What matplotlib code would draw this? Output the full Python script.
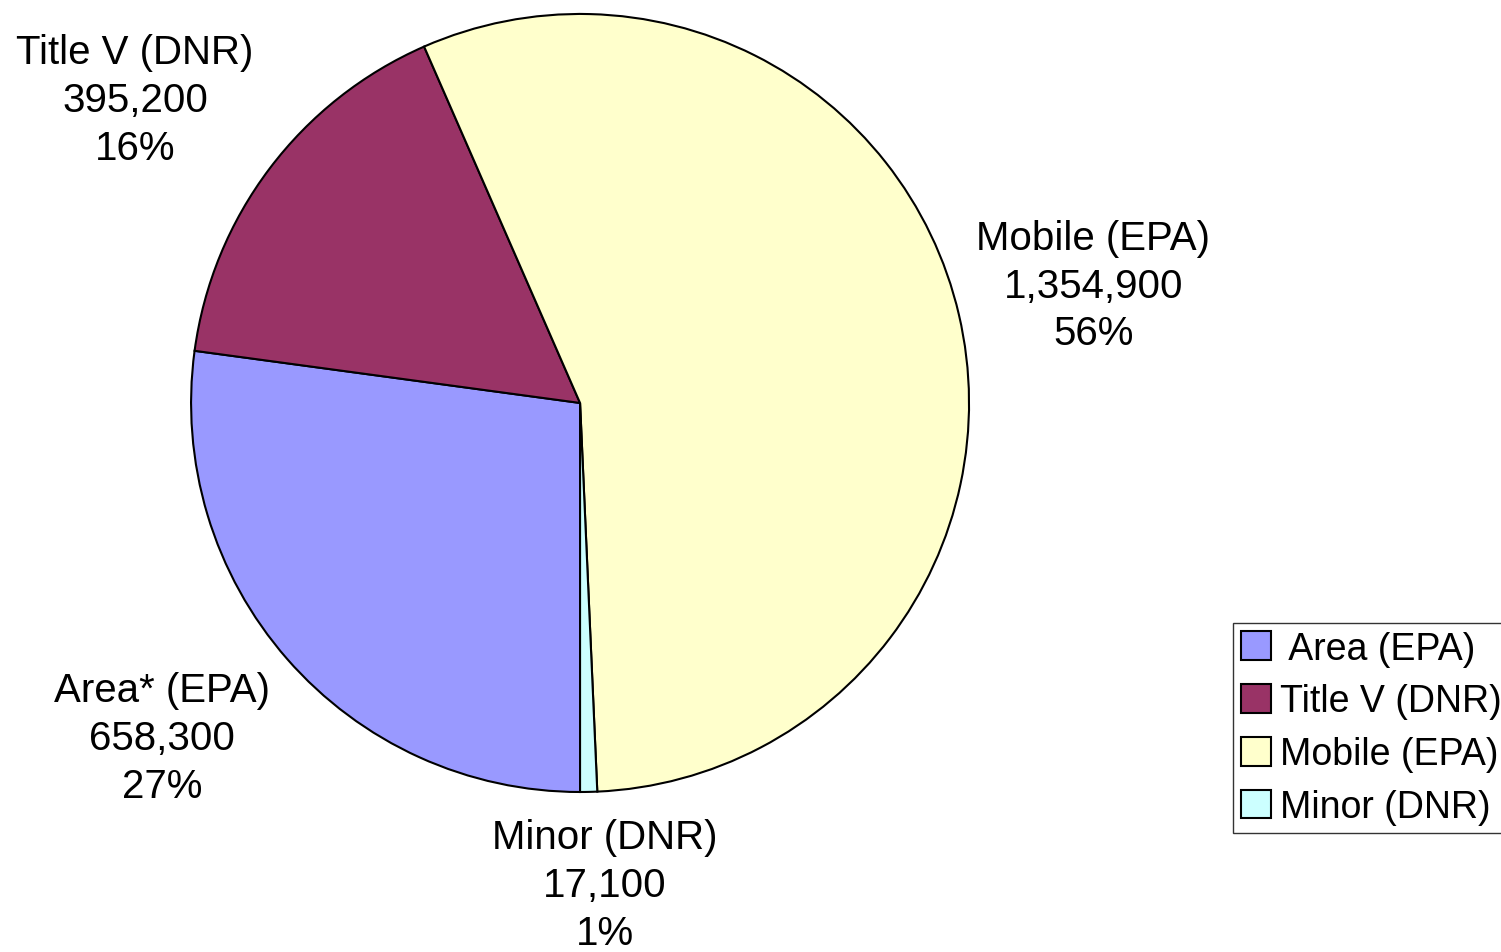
import matplotlib.pyplot as plt
from matplotlib.patches import Patch

plt.rcParams['font.family'] = ['Liberation Sans', 'DejaVu Sans']

# data
categories = ['Area (EPA)', 'Title V (DNR)', 'Mobile (EPA)', 'Minor (DNR)']
legend_labels = [' Area (EPA)', 'Title V (DNR)', 'Mobile (EPA)', 'Minor (DNR)']
slice_labels = ['Area* (EPA)', 'Title V (DNR)', 'Mobile (EPA)', 'Minor (DNR)']
values = [658300, 395200, 1354900, 17100]
colors = ['#9999FF', '#993366', '#FFFFCC', '#CCFFFF']

# label centres, in units of the pie radius (placed like the Excel data labels)
label_pos = [(-1.075, -0.861), (-1.144, 0.779), (1.319, 0.301), (0.064, -1.239)]

fig = plt.figure(figsize=(15.01, 9.53), dpi=100)
ax = fig.add_axes([0.1273, 0.1679, 0.5183, 0.8164])

wedges, _ = ax.pie(values, colors=colors, startangle=270, counterclock=False,
                   radius=1, wedgeprops=dict(edgecolor='black', linewidth=1.5))
ax.set_xlim(-1, 1)
ax.set_ylim(-1, 1)
ax.set_aspect('auto')

total = sum(values)
for name, v, (x, y) in zip(slice_labels, values, label_pos):
    pct = round(100 * v / total)
    ax.text(x, y, f'{name}\n{v:,}\n{pct}%', ha='center', va='center',
            fontsize=29, linespacing=1.32, clip_on=False)

handles = [Patch(facecolor=c, edgecolor='black', linewidth=1.5) for c in colors]
leg = fig.legend(handles, legend_labels, loc='upper left',
                 bbox_to_anchor=(1233 / 1501, 1 - 624 / 953),
                 fontsize=27, frameon=True, fancybox=False, borderpad=0.2,
                 handlelength=0.8, handleheight=0.8, handletextpad=0.25,
                 labelspacing=0.45, borderaxespad=0)
leg.get_frame().set_edgecolor('black')
leg.get_frame().set_linewidth(1)

fig.savefig('out.png', dpi=100)
